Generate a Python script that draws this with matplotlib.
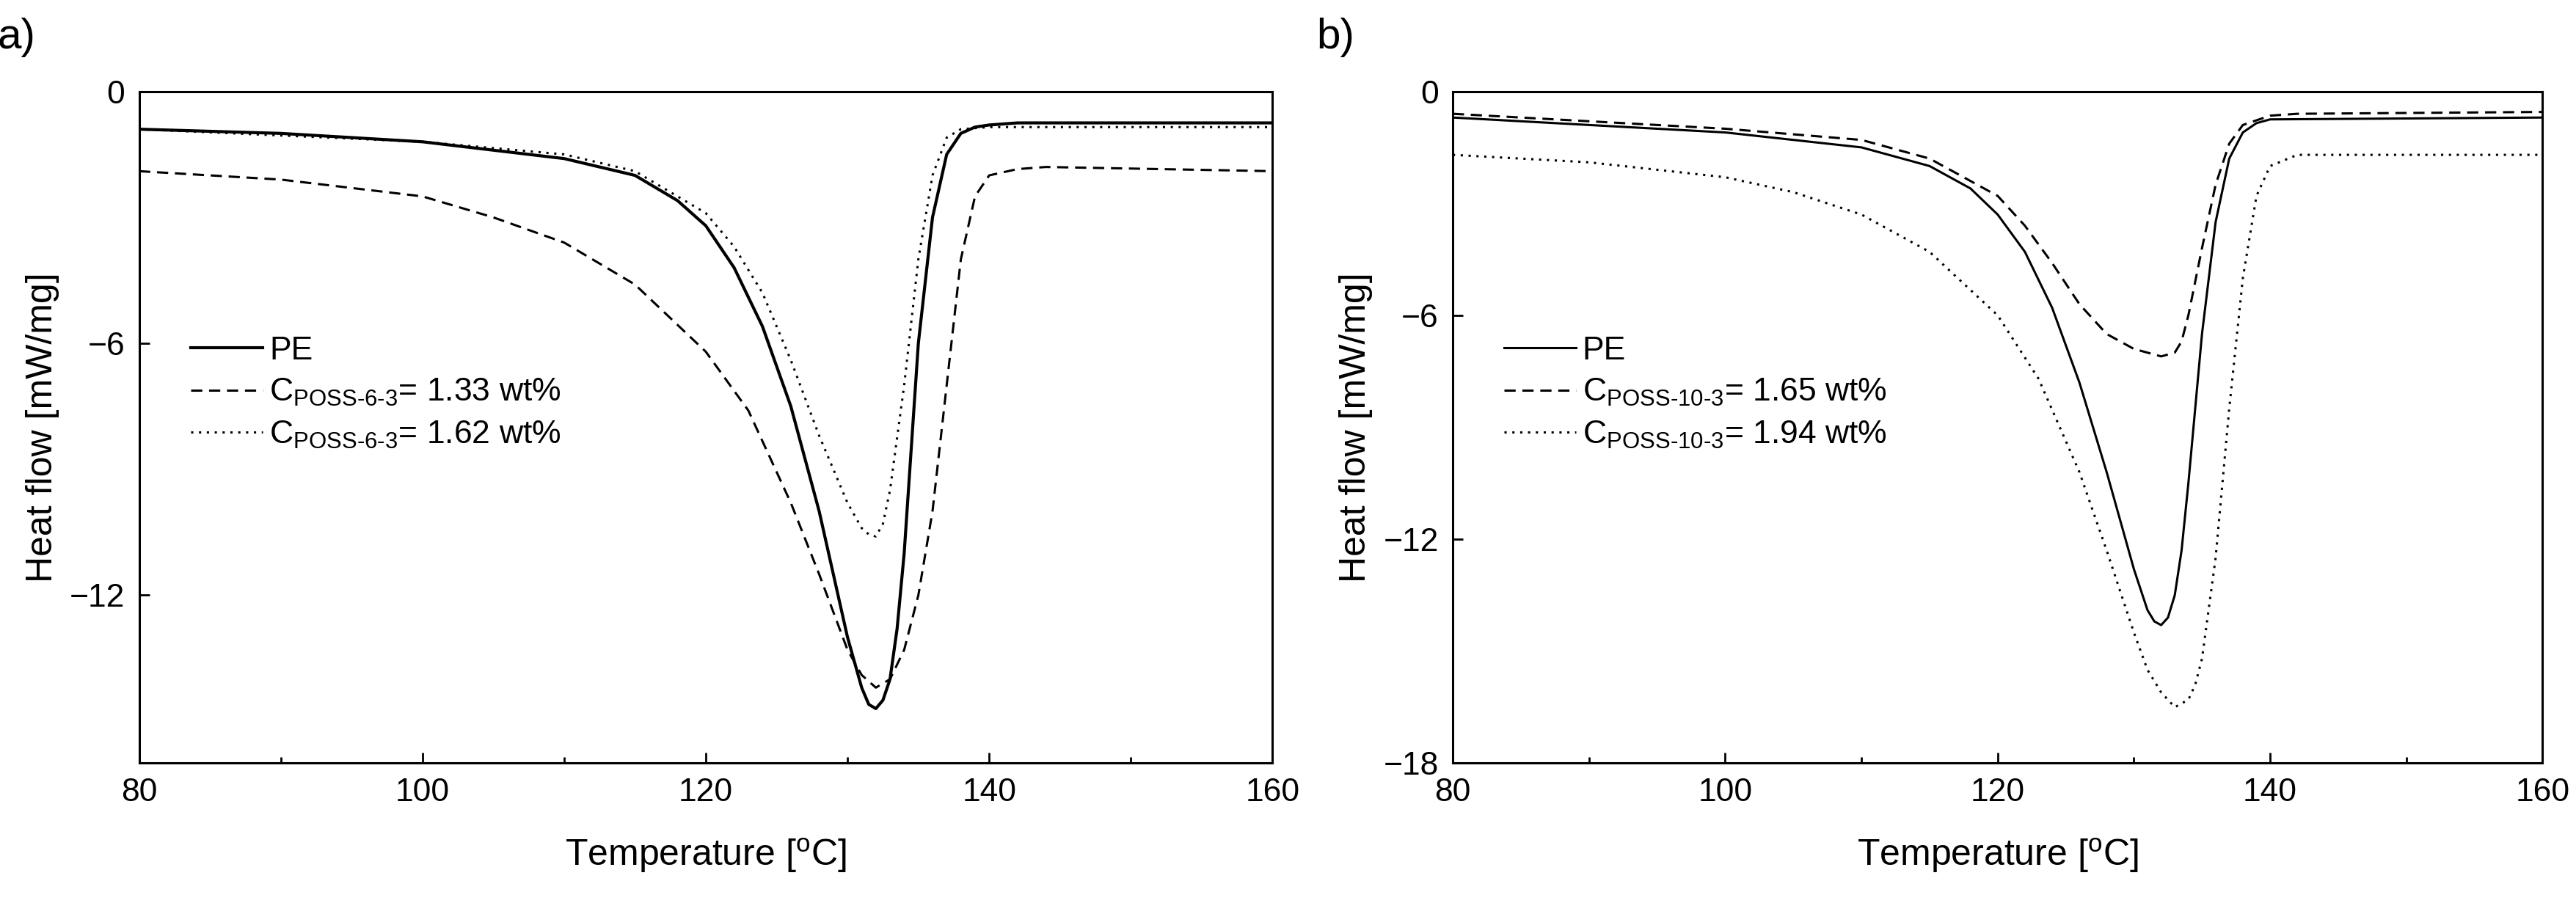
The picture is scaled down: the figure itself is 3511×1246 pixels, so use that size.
import matplotlib
matplotlib.use("Agg")
import matplotlib.pyplot as plt

plt.rcParams["font.family"] = "Liberation Sans"
plt.rcParams["mathtext.fontset"] = "custom"
plt.rcParams["mathtext.rm"] = "Liberation Sans"

# Panel a
a_pe_T = [80, 90, 100, 110, 115, 118, 120, 122, 124, 126, 128, 129, 130, 131, 131.5, 132, 132.5, 133, 133.5, 134, 135, 136, 137, 138, 139, 140, 142, 160]
a_pe_H = [-0.9, -1.0, -1.2, -1.6, -2.0, -2.6, -3.2, -4.2, -5.6, -7.5, -10, -11.5, -13, -14.2, -14.6, -14.7, -14.5, -14.0, -12.8, -11, -6, -3, -1.5, -1.0, -0.85, -0.8, -0.75, -0.75]
a_d1_T = [80, 90, 100, 105, 110, 115, 120, 123, 126, 128, 130, 131, 132, 133, 134, 135, 136, 137, 138, 139, 140, 142, 144, 160]
a_d1_H = [-1.9, -2.1, -2.5, -3.0, -3.6, -4.6, -6.2, -7.6, -9.8, -11.5, -13.3, -13.9, -14.2, -14.0, -13.3, -12, -10, -7, -4, -2.5, -2.0, -1.85, -1.8, -1.9]
a_d2_T = [80, 100, 110, 115, 120, 122, 124, 126, 128, 130, 131, 131.5, 132, 132.5, 133, 134, 135, 136, 137, 138, 140, 160]
a_d2_H = [-0.9, -1.2, -1.5, -1.9, -2.9, -3.7, -4.8, -6.4, -8.2, -9.8, -10.4, -10.55, -10.6, -10.3, -9.5, -7, -4, -2, -1.1, -0.9, -0.85, -0.85]

# Panel b
b_pe_T = [80, 90, 100, 110, 115, 118, 120, 122, 124, 126, 128, 129, 130, 131, 131.5, 132, 132.5, 133, 133.5, 134, 135, 136, 137, 138, 139, 140, 160]
b_pe_H = [-0.7, -0.9, -1.1, -1.5, -2.0, -2.6, -3.3, -4.3, -5.8, -7.8, -10.2, -11.5, -12.8, -13.9, -14.2, -14.3, -14.1, -13.5, -12.3, -10.5, -6.5, -3.5, -1.8, -1.1, -0.85, -0.75, -0.7]
b_d1_T = [80, 90, 100, 110, 115, 120, 122, 124, 126, 128, 130, 131, 132, 133, 133.5, 134, 135, 136, 137, 138, 140, 142, 160]
b_d1_H = [-0.6, -0.8, -1.0, -1.3, -1.8, -2.8, -3.6, -4.6, -5.7, -6.5, -6.9, -7.0, -7.1, -7.0, -6.7, -6.0, -4.2, -2.5, -1.4, -0.9, -0.65, -0.6, -0.55]
b_d2_T = [80, 90, 100, 105, 110, 115, 120, 123, 126, 128, 130, 131, 132, 133, 134, 134.5, 135, 136, 137, 138, 139, 140, 142, 160]
b_d2_H = [-1.7, -1.9, -2.3, -2.7, -3.3, -4.3, -6.0, -7.7, -10.2, -12.3, -14.5, -15.5, -16.1, -16.5, -16.3, -15.9, -15.2, -12.5, -8.5, -5, -2.8, -2.0, -1.7, -1.7]

a_labels = ["PE", r"C$_{\rm POSS‐6‐3}$= 1.33 wt%", r"C$_{\rm POSS‐6‐3}$= 1.62 wt%"]
b_labels = ["PE", r"C$_{\rm POSS‐10‐3}$= 1.65 wt%", r"C$_{\rm POSS‐10‐3}$= 1.94 wt%"]
xticks = [80, 100, 120, 140, 160]
a_yticks = [0, -6, -12]
b_yticks = [0, -6, -12, -18]

fig = plt.figure(figsize=(35.11, 12.46), dpi=100)
axa = fig.add_axes([0.054, 0.165, 0.440, 0.735])
axb = fig.add_axes([0.564, 0.165, 0.423, 0.735])

def setup(ax, ylim, yticks, tag, data, labels, pe_lw):
    (t0, h0), (t1, h1), (t2, h2) = data
    ax.plot(t0, h0, color="black", lw=pe_lw, ls="-", label=labels[0])
    ax.plot(t1, h1, color="black", lw=2.2, ls=(0, (5, 3)), label=labels[1])
    ax.plot(t2, h2, color="black", lw=2.2, ls=(0, (1, 2.5)), label=labels[2])
    ax.set_xlim(80, 160)
    ax.set_ylim(*ylim)
    ax.set_xticks(xticks)
    ax.set_xticks(range(90, 160, 20), minor=True)
    ax.set_yticks(yticks)
    ax.tick_params(direction="in", length=10, width=2, labelsize=32, pad=14)
    ax.tick_params(which="minor", direction="in", length=6, width=2)
    for s in ax.spines.values():
        s.set_linewidth(2.2)
    ax.set_xlabel("Temperature [$^{\\rm o}$C]", fontsize=36, labelpad=28)
    ax.set_ylabel("Heat flow [mW/mg]", fontsize=36, labelpad=10)
    ax.text(-0.125, 1.08, tag, transform=ax.transAxes, fontsize=42, va="center")
    ax.legend(loc="upper left", bbox_to_anchor=(0.02, 0.68), frameon=False,
              fontsize=32, handlelength=2.2, labelspacing=0.35, handletextpad=0.2)

setup(axa, (-16, 0), a_yticks, "a)", [(a_pe_T, a_pe_H), (a_d1_T, a_d1_H), (a_d2_T, a_d2_H)], a_labels, 3.0)
setup(axb, (-18, 0), b_yticks, "b)", [(b_pe_T, b_pe_H), (b_d1_T, b_d1_H), (b_d2_T, b_d2_H)], b_labels, 2.2)

fig.savefig("out.png", dpi=100)
